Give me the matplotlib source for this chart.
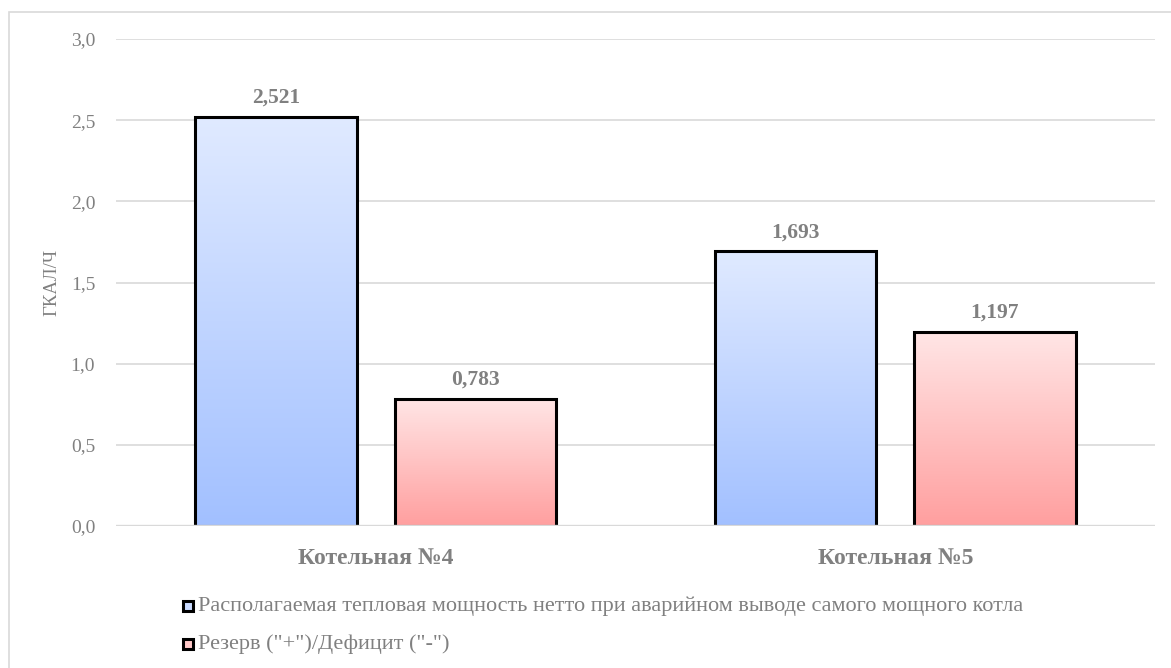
import numpy as np
import matplotlib.pyplot as plt
from matplotlib.patches import Rectangle
from matplotlib.colors import LinearSegmentedColormap
from matplotlib.ticker import FuncFormatter, MultipleLocator

serif = "Liberation Serif"
plt.rcParams['font.family'] = serif

categories = ["Котельная №4", "Котельная №5"]
available = [2.521, 1.693]
reserve = [0.783, 1.197]
series_names = ['Располагаемая тепловая мощность нетто при аварийном выводе самого мощного котла',
                'Резерв ("+")/Дефицит ("-")']
ylabel = "ГКАЛ/Ч"

grey = "#808080"
blue_top, blue_bot = "#E0EAFF", "#A2C0FF"
red_top, red_bot = "#FFE6E6", "#FF9F9F"

fig = plt.figure(figsize=(11.71, 6.68), dpi=100)
# thin frame around the chart
fig.patches.append(Rectangle((9 / 1171, -0.01), 1.02, 1 - 12 / 668 + 0.01,
                             transform=fig.transFigure, fill=False,
                             edgecolor="#D9D9D9", linewidth=1.2))

ax = fig.add_axes([116 / 1171, 1 - 526 / 668, (1155 - 116) / 1171, (526 - 39) / 668])

x = np.arange(len(categories))
width = 0.31
offset = 0.192


def gradient_bars(xs, vals, top, bot):
    bars = ax.bar(xs, vals, width, facecolor="none", edgecolor="black",
                  linewidth=2.2, zorder=3)
    cmap = LinearSegmentedColormap.from_list("g", [bot, top])
    grad = np.linspace(0, 1, 256).reshape(-1, 1)
    for b in bars:
        x0, y0 = b.get_x(), b.get_y()
        w, h = b.get_width(), b.get_height()
        im = ax.imshow(grad, cmap=cmap, aspect="auto", origin="lower",
                       extent=[x0, x0 + w, y0, y0 + h], zorder=2)
        im.set_clip_path(b)
        ax.text(x0 + w / 2, y0 + h + 0.055, f"{h:.3f}".replace(".", ","),
                ha="center", va="bottom", fontsize=15.5, fontweight="bold",
                color=grey, family=serif)
    return bars


gradient_bars(x - offset, available, blue_top, blue_bot)
gradient_bars(x + offset, reserve, red_top, red_bot)

ax.set_xlim(-0.5, 1.5)
ax.set_ylim(0, 3.0)
ax.yaxis.set_major_locator(MultipleLocator(0.5))
ax.yaxis.set_major_formatter(FuncFormatter(lambda v, p: f"{v:.1f}".replace(".", ",")))
ax.set_xticks(x)
ax.set_xticklabels(categories, fontsize=17, fontweight="bold", color=grey, family=serif)
for t in ax.get_yticklabels():
    t.set_family(serif)
ax.tick_params(axis="x", length=0, pad=16)
ax.tick_params(axis="y", length=0, pad=15, labelsize=14, labelcolor=grey)
ax.grid(axis="y", color="#D9D9D9", linewidth=1.2, zorder=0)
for s in ax.spines.values():
    s.set_visible(False)
# baseline drawn over the bottom edge of the bars
ax.axhline(0, color="#D9D9D9", linewidth=2.4, zorder=4)
ax.set_ylabel(ylabel, fontsize=13.5, color=grey, family=serif)
ax.yaxis.set_label_coords(-(116 - 60) / 1039, 0.5)

# legend built from small squares and text
for i, (name, fc) in enumerate(zip(series_names, ["#C9DAFF", "#FFC8C8"])):
    ypos = 1 - (606 + 38 * i) / 668
    fig.patches.append(Rectangle((183 / 1171, ypos - 5 / 668), 10 / 1171, 10 / 668,
                                 transform=fig.transFigure, facecolor=fc,
                                 edgecolor="black", linewidth=2.2))
    fig.text(198 / 1171, ypos, name, ha="left", va="center", fontsize=16,
             color=grey, family=serif)

fig.savefig("out.png", dpi=100)
